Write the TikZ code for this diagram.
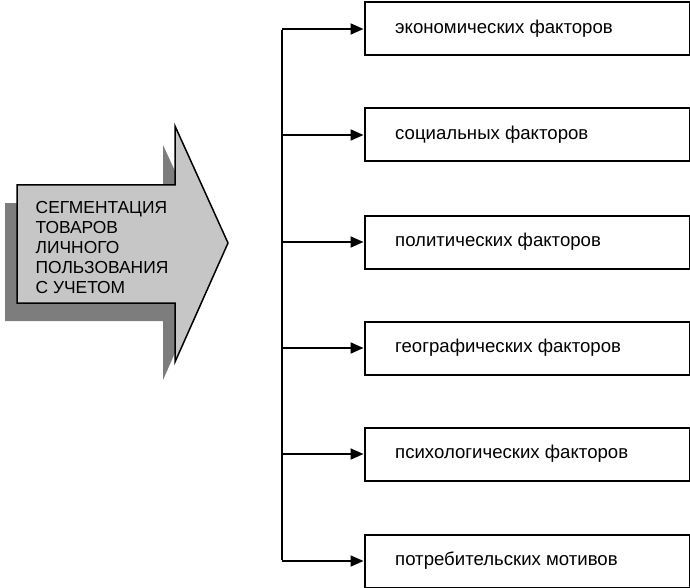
\documentclass[tikz,border=0pt]{standalone}
\usepackage{fontspec}
\setmainfont{Liberation Sans}
\usetikzlibrary{arrows.meta}
\definecolor{arrowfill}{RGB}{198,198,198}
\definecolor{shadowfill}{RGB}{125,125,125}
\tikzset{
  factorbox/.style={draw, line width=2pt, minimum width=325pt, minimum height=53pt, anchor=north west, inner sep=0pt},
  factortext/.style={anchor=west, font=\fontsize{18.6}{21}\selectfont, inner sep=0pt},
  link/.style={line width=1.8pt, -{Triangle[length=13pt,width=11pt]}},
  trunk/.style={line width=1.8pt},
}
\begin{document}
\begin{tikzpicture}[x=1pt,y=-1pt]
\useasboundingbox (0,0) rectangle (690,588);
% shadow arrow
\fill[shadowfill] (5,203) -- (163,203) -- (163,145) -- (216,260) -- (163,380) -- (163,321) -- (5,321) -- cycle;
% main arrow
\draw[fill=arrowfill, line width=1.5pt, line join=miter] (17,185) -- (175,185) -- (175,126) -- (228,243) -- (175,362) -- (175,303) -- (17,303) -- cycle;
\node[anchor=north west, align=left, inner sep=0pt, font=\fontsize{17.4}{19.8}\selectfont] (title) at (35.5,201.5)
  {СЕГМЕНТАЦИЯ\\ТОВАРОВ\\ЛИЧНОГО\\ПОЛЬЗОВАНИЯ\\С УЧЕТОМ};
% boxes
\foreach \i/\y/\t in {1/1.5/экономических факторов, 2/107.5/социальных факторов, 3/214.5/политических факторов, 4/320.5/географических факторов, 5/426.5/психологических факторов, 6/533.5/потребительских мотивов}{
  \node[factorbox] (b\i) at (363.5,\y) {};
  \node[factortext] (t\i) at ([xshift=31.5pt]b\i.west) {\t};
}
\coordinate (top) at (282,0 |- b1.west);
\coordinate (bot) at (282,0 |- b6.west);
\draw[trunk] ([yshift=-0.9pt]top) -- ([yshift=0.9pt]bot);
\foreach \i in {1,...,6}{
  \draw[link] (282,0 |- b\i.west) -- (b\i.west);
}
\end{tikzpicture}
\end{document}
